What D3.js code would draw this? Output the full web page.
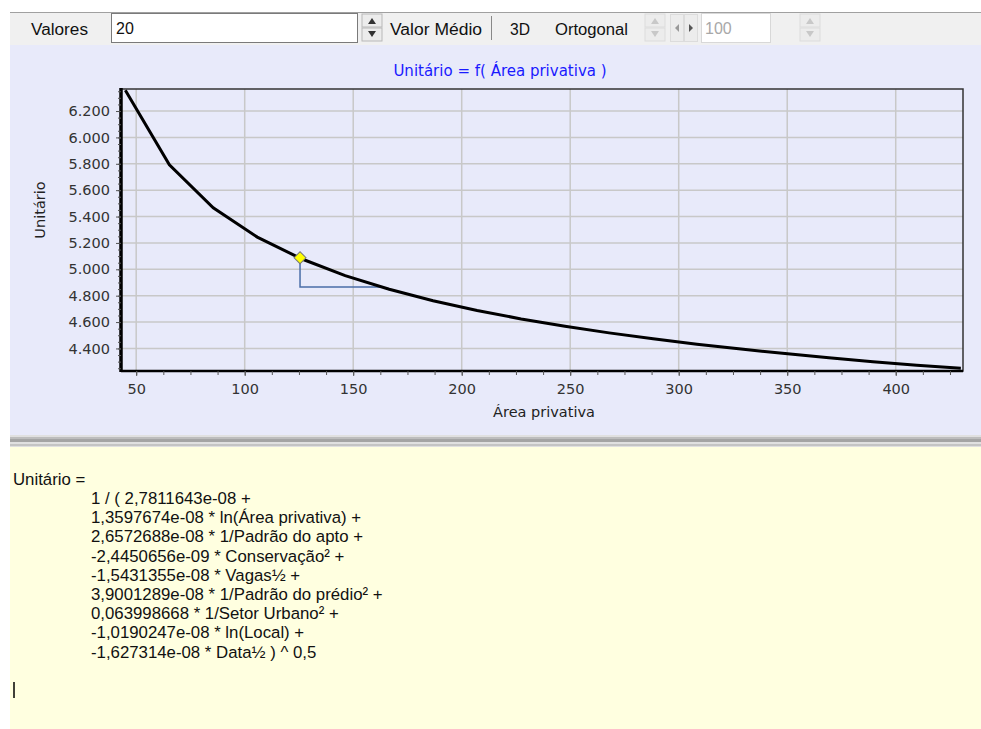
<!DOCTYPE html>
<html>
<head>
<meta charset="utf-8">
<script src="https://cdn.jsdelivr.net/npm/d3@7"></script>
<style>
  body { margin: 0; background: #fff; }
  svg { display: block; font-family: "Liberation Sans", Arial, sans-serif; }
</style>
</head>
<body>
<svg id="chart" width="981" height="729"></svg>
<script>
// curve points (Área privativa -> Unitário), 20 values
var areaVals = [45.0, 65.3, 85.5, 105.8, 126.1, 146.3, 166.6, 186.8, 207.1, 227.4,
                247.6, 267.9, 288.2, 308.4, 328.7, 349.0, 369.2, 389.5, 409.7, 430.0];
var unitVals = [6357, 5793, 5466, 5244, 5080, 4952, 4849, 4762, 4688, 4624,
                4568, 4518, 4473, 4432, 4395, 4361, 4329, 4300, 4273, 4250];
// mean point and the small blue helper line
var meanPoint = { area: 125.5, unit: 5088 };
var helperArea = [125.5, 125.5, 163.2];
var helperUnit = [5088, 4866, 4866];

var xTicks = [50, 100, 150, 200, 250, 300, 350, 400];
var yTicks = [4400, 4600, 4800, 5000, 5200, 5400, 5600, 5800, 6000, 6200];

var formulaLines = [
  "1 / ( 2,7811643e-08 +",
  "1,3597674e-08 * ln(Área privativa) +",
  "2,6572688e-08 * 1/Padrão do apto +",
  "-2,4450656e-09 * Conservação² +",
  "-1,5431355e-08 * Vagas½ +",
  "3,9001289e-08 * 1/Padrão do prédio² +",
  "0,063998668 * 1/Setor Urbano² +",
  "-1,0190247e-08 * ln(Local) +",
  "-1,627314e-08 * Data½ ) ^ 0,5"
];

var svg = d3.select("#chart");

// ---- toolbar ----
var bar = svg.append("g");
bar.append("rect").attr("x", 10).attr("y", 12).attr("width", 971).attr("height", 33).attr("fill", "#f0f0f0");
bar.append("line").attr("x1", 10).attr("x2", 981).attr("y1", 12.5).attr("y2", 12.5).attr("stroke", "#a0a0a0");

function label(x, txt, w) {
  bar.append("text").attr("x", x).attr("y", 35).attr("font-size", 16)
    .attr("fill", "#111").attr("textLength", w).attr("lengthAdjust", "spacingAndGlyphs").text(txt);
}
function spin(x, disabled) {
  var c = disabled ? "#c8c8c8" : "#333";
  bar.append("rect").attr("x", x).attr("y", 14).attr("width", 20).attr("height", 13)
    .attr("fill", "#ececec").attr("stroke", disabled ? "#dcdcdc" : "#b8b8b8");
  bar.append("rect").attr("x", x).attr("y", 28).attr("width", 20).attr("height", 13)
    .attr("fill", "#ececec").attr("stroke", disabled ? "#dcdcdc" : "#b8b8b8");
  bar.append("path").attr("d", "M" + (x + 6) + ",24L" + (x + 10) + ",18L" + (x + 14) + ",24Z").attr("fill", c);
  bar.append("path").attr("d", "M" + (x + 6) + ",31L" + (x + 10) + ",37L" + (x + 14) + ",31Z").attr("fill", c);
}

label(31, "Valores", 57);
bar.append("rect").attr("x", 111.5).attr("y", 13.5).attr("width", 246).attr("height", 29)
  .attr("fill", "#fff").attr("stroke", "#7a7a7a");
bar.append("text").attr("x", 116).attr("y", 34).attr("font-size", 16).attr("fill", "#111").text("20");
spin(362, false);
label(390, "Valor Médio", 92);
bar.append("line").attr("x1", 491.5).attr("x2", 491.5).attr("y1", 16).attr("y2", 40).attr("stroke", "#888");
label(510, "3D", 20);
label(555, "Ortogonal", 73);
spin(645, true);
bar.append("rect").attr("x", 670.5).attr("y", 14.5).attr("width", 13).attr("height", 27).attr("fill", "#ececec").attr("stroke", "#dcdcdc");
bar.append("rect").attr("x", 684.5).attr("y", 14.5).attr("width", 13).attr("height", 27).attr("fill", "#ececec").attr("stroke", "#dcdcdc");
bar.append("path").attr("d", "M679,24L675,28L679,32Z").attr("fill", "#999");
bar.append("path").attr("d", "M689,24L693,28L689,32Z").attr("fill", "#555");
bar.append("rect").attr("x", 701.5).attr("y", 13.5).attr("width", 69).attr("height", 29).attr("fill", "#fff").attr("stroke", "#d8d8d8");
bar.append("text").attr("x", 705).attr("y", 34).attr("font-size", 16).attr("fill", "#a8a8a8").text("100");
spin(800, true);

// ---- chart panel ----
svg.append("rect").attr("x", 10).attr("y", 45).attr("width", 971).attr("height", 390).attr("fill", "#e8eafa");

var pLeft = 121, pRight = 963, pTop = 89, pBottom = 371;
var x = d3.scaleLinear().domain([43, 431]).range([pLeft, pRight]);
var y = d3.scaleLinear().domain([4229, 6367]).range([pBottom, pTop]);

var plot = svg.append("g");

// grid
plot.selectAll(".vgrid").data(xTicks).enter().append("line")
  .attr("x1", d => x(d)).attr("x2", d => x(d)).attr("y1", pTop).attr("y2", pBottom)
  .attr("stroke", "#c8c8c8").attr("stroke-width", 1.5);
plot.selectAll(".hgrid").data(yTicks).enter().append("line")
  .attr("x1", pLeft).attr("x2", pRight).attr("y1", d => y(d)).attr("y2", d => y(d))
  .attr("stroke", "#c8c8c8").attr("stroke-width", 1.5);

// frame
plot.append("rect").attr("x", pLeft).attr("y", pTop).attr("width", pRight - pLeft).attr("height", pBottom - pTop)
  .attr("fill", "none").attr("stroke", "#333").attr("stroke-width", 1.5);

// axes
var xAxis = d3.axisBottom(x).tickValues(xTicks).tickSize(5).tickPadding(8).tickFormat(d3.format("d"));
var xMinor = d3.axisBottom(x).tickValues(d3.range(50, 431, 12.5)).tickSize(4).tickFormat("");
var yAxis = d3.axisLeft(y).tickValues(yTicks).tickSize(5).tickPadding(6)
  .tickFormat(d => d3.format(",")(d).replace(",", "."));
var yMinor = d3.axisLeft(y).tickValues(d3.range(4250, 6367, 50)).tickSize(3).tickFormat("");

function styleAxis(g) {
  g.select(".domain").remove();
  g.selectAll("line").attr("stroke", "#555");
  g.selectAll("text").attr("font-size", 14.5).attr("fill", "#333")
    .attr("font-family", "'DejaVu Sans', Verdana, sans-serif");
}
svg.append("g").attr("transform", "translate(0," + pBottom + ")").call(xMinor).call(styleAxis);
svg.append("g").attr("transform", "translate(0," + pBottom + ")").call(xAxis).call(styleAxis);
svg.append("g").attr("transform", "translate(" + pLeft + ",0)").call(yMinor).call(styleAxis);
svg.append("g").attr("transform", "translate(" + pLeft + ",0)").call(yAxis).call(styleAxis);

// thick axis lines
plot.append("line").attr("x1", pLeft).attr("x2", pLeft).attr("y1", pTop - 1).attr("y2", pBottom + 1)
  .attr("stroke", "#000").attr("stroke-width", 3.5);
plot.append("line").attr("x1", pLeft).attr("x2", pRight).attr("y1", pBottom).attr("y2", pBottom)
  .attr("stroke", "#000").attr("stroke-width", 2.5);

// helper line
var helper = helperArea.map((a, i) => [a, helperUnit[i]]);
plot.append("path").datum(helper)
  .attr("d", d3.line().x(d => x(d[0])).y(d => y(d[1])))
  .attr("fill", "none").attr("stroke", "#4a6ea8").attr("stroke-width", 1.5);

// curve
var pts = areaVals.map((a, i) => [a, unitVals[i]]);
plot.append("path").datum(pts)
  .attr("d", d3.line().x(d => x(d[0])).y(d => y(d[1])))
  .attr("fill", "none").attr("stroke", "#000").attr("stroke-width", 3);

// mean point
plot.append("path")
  .attr("transform", "translate(" + x(meanPoint.area) + "," + y(meanPoint.unit) + ") rotate(45)")
  .attr("d", d3.symbol().type(d3.symbolSquare).size(72))
  .attr("fill", "#ffff00").attr("stroke", "#777").attr("stroke-width", 1);

// titles
var chartFont = "'DejaVu Sans', Verdana, sans-serif";
svg.append("text").attr("x", 500).attr("y", 76).attr("text-anchor", "middle")
  .attr("font-family", chartFont).attr("font-size", 15).attr("fill", "#1a1aff")
  .text("Unitário = f( Área privativa )");
svg.append("text").attr("x", 544).attr("y", 417).attr("text-anchor", "middle")
  .attr("font-family", chartFont).attr("font-size", 14.5).attr("fill", "#222").text("Área privativa");
svg.append("text").attr("transform", "translate(45,210) rotate(-90)").attr("text-anchor", "middle")
  .attr("font-family", chartFont).attr("font-size", 14.5).attr("fill", "#222").text("Unitário");

// ---- separator ----
svg.append("rect").attr("x", 10).attr("y", 435).attr("width", 971).attr("height", 12).attr("fill", "#e0e0e0");
svg.append("rect").attr("x", 10).attr("y", 437).attr("width", 971).attr("height", 2).attr("fill", "#bdbdbd");
svg.append("rect").attr("x", 10).attr("y", 439).attr("width", 971).attr("height", 3).attr("fill", "#a4a4a4");
svg.append("rect").attr("x", 10).attr("y", 444).attr("width", 971).attr("height", 2).attr("fill", "#c4c4c4");

// ---- formula panel ----
svg.append("rect").attr("x", 10).attr("y", 447).attr("width", 971).attr("height", 282).attr("fill", "#ffffe0");
var ft = svg.append("g").attr("font-size", 16.8).attr("fill", "#111");
ft.append("text").attr("x", 13).attr("y", 485).text("Unitário =");
ft.selectAll(".fl").data(formulaLines).enter().append("text")
  .attr("x", 91).attr("y", (d, i) => 504 + i * 19.2).text(d => d);
svg.append("line").attr("x1", 14).attr("x2", 14).attr("y1", 682).attr("y2", 698).attr("stroke", "#000").attr("stroke-width", 1.5);
</script>
</body>
</html>
